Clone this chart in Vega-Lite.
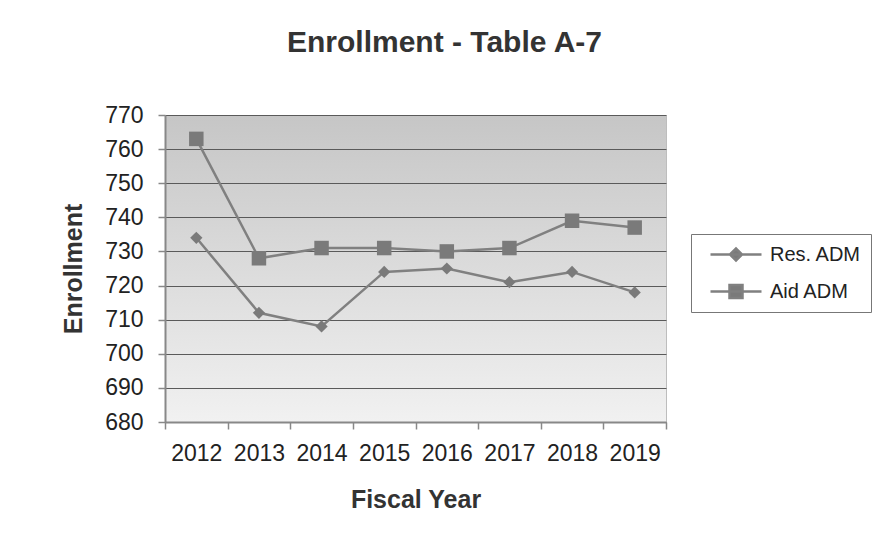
{
  "$schema": "https://vega.github.io/schema/vega-lite/v6.json",
  "width": 501,
  "height": 307,
  "autosize": "none",
  "padding": {"left": 165, "top": 115, "right": 227, "bottom": 137},
  "background": "white",
  "title": {
    "text": "Enrollment - Table A-7",
    "font": "Liberation Sans",
    "fontSize": 30,
    "fontWeight": "bold",
    "color": "#333333",
    "frame": "group",
    "anchor": "middle",
    "dx": 29,
    "offset": 46
  },
  "data": {
    "values": [
      {"year": "2012", "series": "Res. ADM", "value": 734},
      {"year": "2013", "series": "Res. ADM", "value": 712},
      {"year": "2014", "series": "Res. ADM", "value": 708},
      {"year": "2015", "series": "Res. ADM", "value": 724},
      {"year": "2016", "series": "Res. ADM", "value": 725},
      {"year": "2017", "series": "Res. ADM", "value": 721},
      {"year": "2018", "series": "Res. ADM", "value": 724},
      {"year": "2019", "series": "Res. ADM", "value": 718},
      {"year": "2012", "series": "Aid ADM", "value": 763},
      {"year": "2013", "series": "Aid ADM", "value": 728},
      {"year": "2014", "series": "Aid ADM", "value": 731},
      {"year": "2015", "series": "Aid ADM", "value": 731},
      {"year": "2016", "series": "Aid ADM", "value": 730},
      {"year": "2017", "series": "Aid ADM", "value": 731},
      {"year": "2018", "series": "Aid ADM", "value": 739},
      {"year": "2019", "series": "Aid ADM", "value": 737}
    ]
  },
  "encoding": {
    "x": {
      "field": "year",
      "type": "ordinal",
      "scale": {"type": "band", "paddingInner": 0, "paddingOuter": 0},
      "axis": {
        "title": "Fiscal Year",
        "labelAngle": 0,
        "tickBand": "extent",
        "grid": false,
        "labelFont": "Liberation Sans",
        "labelFontSize": 23,
        "labelColor": "#222222",
        "labelPadding": 13,
        "tickSize": 7,
        "tickColor": "#888888",
        "tickWidth": 1.5,
        "domainColor": "#888888",
        "domainWidth": 2,
        "titleFont": "Liberation Sans",
        "titleFontSize": 25,
        "titleFontWeight": "bold",
        "titleColor": "#333333",
        "titlePadding": 22
      }
    },
    "y": {
      "field": "value",
      "type": "quantitative",
      "scale": {"domain": [680, 770], "nice": false, "zero": false},
      "axis": {
        "title": "Enrollment",
        "values": [680, 690, 700, 710, 720, 730, 740, 750, 760, 770],
        "grid": true,
        "gridColor": "#5a5a5a",
        "gridWidth": 1,
        "labelFont": "Liberation Sans",
        "labelFontSize": 23,
        "labelColor": "#222222",
        "labelPadding": 15,
        "tickSize": 7,
        "tickColor": "#888888",
        "tickWidth": 1.5,
        "domainColor": "#888888",
        "domainWidth": 2,
        "titleFont": "Liberation Sans",
        "titleFontSize": 25,
        "titleFontWeight": "bold",
        "titleColor": "#333333",
        "titlePadding": 18
      }
    }
  },
  "layer": [
    {
      "mark": {"type": "line", "strokeWidth": 2.5},
      "encoding": {
        "color": {
          "field": "series",
          "type": "nominal",
          "scale": {"domain": ["Res. ADM", "Aid ADM"], "range": ["#808080", "#808080"]},
          "legend": {
            "title": null,
            "orient": "none",
            "legendX": 526,
            "legendY": 119,
            "padding": 9,
            "strokeColor": "#777777",
            "fillColor": "white",
            "symbolSize": 400,
            "symbolStrokeWidth": 2.5,
            "labelFont": "Liberation Sans",
            "labelFontSize": 20,
            "labelColor": "#222222",
            "labelOffset": 47,
            "rowPadding": 14,
            "encode": {
              "symbols": {
                "update": {
                  "shape": {"signal": "datum.value === 'Res. ADM' ? 'M-0.1,0H5M1.85,0L2.45,-0.6L3.05,0L2.45,0.6Z' : 'M-0.1,0H5M1.8,-0.65H3.1V0.65H1.8Z'"},
                  "fill": {"value": "#7a7a7a"},
                  "stroke": {"value": "#808080"}
                }
              }
            }
          }
        }
      }
    },
    {
      "transform": [{"filter": "datum.series === 'Res. ADM'"}],
      "mark": {"type": "point", "shape": "diamond", "size": 150, "filled": true, "fill": "#7a7a7a", "opacity": 1, "strokeWidth": 0}
    },
    {
      "transform": [{"filter": "datum.series === 'Aid ADM'"}],
      "mark": {"type": "point", "shape": "square", "size": 210, "filled": true, "fill": "#7a7a7a", "opacity": 1, "strokeWidth": 0}
    }
  ],
  "config": {
    "view": {
      "fill": {
        "gradient": "linear",
        "x1": 0, "y1": 0, "x2": 0, "y2": 1,
        "stops": [
          {"offset": 0, "color": "#c6c6c6"},
          {"offset": 1, "color": "#f1f1f1"}
        ]
      },
      "stroke": "#bdbdbd"
    }
  }
}
